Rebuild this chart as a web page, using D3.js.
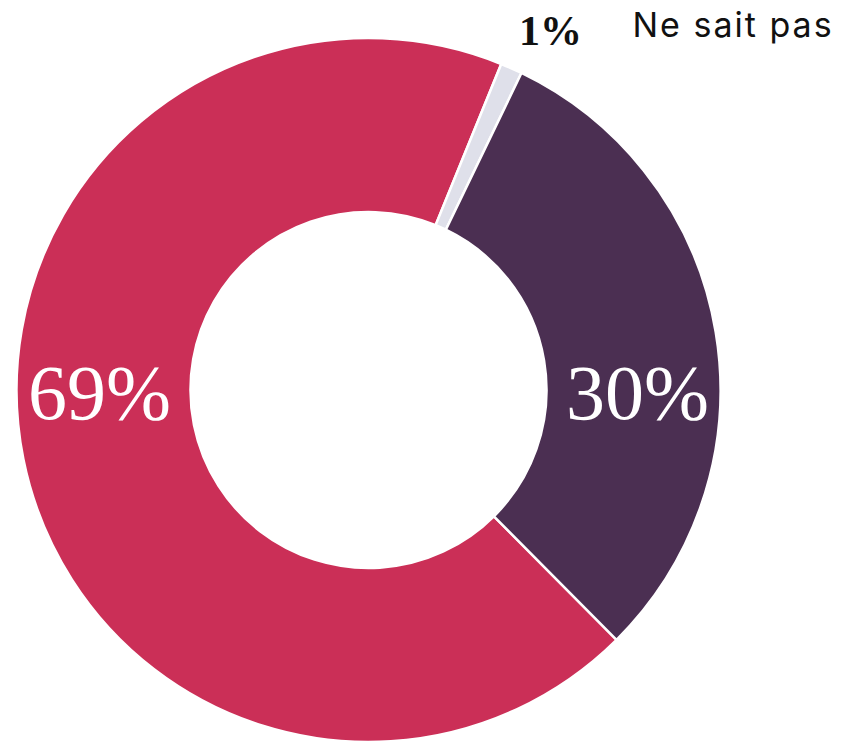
<!DOCTYPE html>
<html>
<head>
<meta charset="utf-8">
<script src="https://cdn.jsdelivr.net/npm/d3@7"></script>
<style>
  body { margin: 0; background: #fff; }
  svg { display: block; }
</style>
</head>
<body>
<div id="chart"></div>
<script>
const categories = ['Non', 'Ne sait pas', 'Oui'];
const values = [68.6, 1.0, 30.4];
const labels = ['69%', '1%', '30%'];
const colors = ['#cb2f57', '#dfe0ea', '#4b2f52'];

const width = 843;
const height = 742;
const cx = 368.5;
const cy = 390;
const outerR = 352;
const innerR = 178;

const svg = d3.select('#chart').append('svg')
  .attr('width', width)
  .attr('height', height);

const g = svg.append('g').attr('transform', `translate(${cx},${cy})`);

// slices drawn in data order, starting low right so the small one sits near the top
const start = (135.2 / 180) * Math.PI;
const pie = d3.pie().sort(null).value((d) => d.value)
  .startAngle(start).endAngle(start + 2 * Math.PI);

const data = categories.map((c, i) => ({ cat: c, value: values[i], label: labels[i], color: colors[i] }));
const arcs = pie(data);

const arc = d3.arc().innerRadius(innerR).outerRadius(outerR);

g.selectAll('path')
  .data(arcs)
  .join('path')
  .attr('d', arc)
  .attr('fill', (d) => d.data.color)
  .attr('stroke', '#fff')
  .attr('stroke-width', 2.5)
  .attr('stroke-linejoin', 'miter');

const midR = (innerR + outerR) / 2;

// big labels sit on the horizontal axis of the ring, on the side of their slice
arcs.filter((d) => d.data.value > 5).forEach((d) => {
  const mid = (d.startAngle + d.endAngle) / 2;
  const side = Math.sin(mid) < 0 ? -1 : 1;
  g.append('text')
    .attr('x', side * (midR + 4))
    .attr('y', 29)
    .attr('text-anchor', 'middle')
    .style('font-family', '"Liberation Serif", serif')
    .style('font-size', '78px')
    .style('fill', '#fff')
    .text(d.data.label);
});

// small slice: label outside with its category name
const small = arcs.find((d) => d.data.value <= 5);
g.append('text')
  .attr('x', 182)
  .attr('y', -345)
  .attr('text-anchor', 'middle')
  .style('font-family', '"Liberation Serif", serif')
  .style('font-weight', 'bold')
  .style('font-size', '42px')
  .style('fill', '#111')
  .text(small.data.label);

g.append('text')
  .attr('x', 264)
  .attr('y', -353)
  .style('font-family', 'Inter, "Noto Sans", sans-serif')
  .style('font-size', '34px')
  .style('letter-spacing', '2px')
  .style('fill', '#111')
  .text(small.data.cat);
</script>
</body>
</html>
